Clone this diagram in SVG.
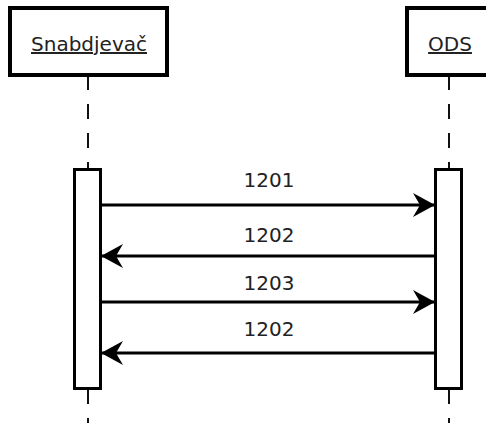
<svg xmlns="http://www.w3.org/2000/svg" width="486" height="427" viewBox="0 0 486 427">
<style>
.bg{fill:#fff}
.box{fill:#fff;stroke:#000;stroke-width:4}
.act{fill:#fff;stroke:#000;stroke-width:3}
.life{stroke:#111;stroke-width:2;stroke-dasharray:15 14;fill:none}
.lbl{font-family:"DejaVu Sans",Verdana,sans-serif;font-size:20px;fill:#222;text-anchor:middle}
.name{font-family:"DejaVu Sans",Verdana,sans-serif;font-size:20px;fill:#222;text-anchor:middle;text-decoration:underline}
.msg{stroke:#000;stroke-width:3;fill:none}
</style>
<defs>
<marker id="ah" viewBox="0 0 22 24" refX="21" refY="12" markerWidth="22" markerHeight="24" markerUnits="userSpaceOnUse" orient="auto">
<path d="M0,0 L22,12 L0,24 L7,12 Z" fill="#000"/>
</marker>
</defs>
<rect class="bg" x="0" y="0" width="486" height="427"/>
<g id="lifelines">
<line class="life" x1="88" y1="75" x2="88" y2="168"/>
<line class="life" x1="449" y1="75" x2="449" y2="168"/>
<line class="life" x1="88" y1="389" x2="88" y2="423"/>
<line class="life" x1="449" y1="389" x2="449" y2="423"/>
</g>
<g id="snabdjevac">
<rect class="box" x="10" y="8" width="157" height="67"/>
<text class="name" x="89" y="51">Snabdjevač</text>
</g>
<g id="ods">
<rect class="box" x="407" y="8" width="85" height="67"/>
<text class="name" x="450" y="51">ODS</text>
</g>
<g id="act-snabdjevac">
<rect class="act" x="74.5" y="169.5" width="26" height="219"/>
</g>
<g id="act-ods">
<rect class="act" x="435.5" y="169.5" width="26" height="219"/>
</g>
<g id="connectors">
<line class="msg" x1="101" y1="205" x2="434" y2="205" marker-end="url(#ah)"/>
<line class="msg" x1="435" y1="256" x2="102" y2="256" marker-end="url(#ah)"/>
<line class="msg" x1="101" y1="302" x2="434" y2="302" marker-end="url(#ah)"/>
<line class="msg" x1="435" y1="353" x2="102" y2="353" marker-end="url(#ah)"/>
<text class="lbl" x="269" y="187">1201</text>
<text class="lbl" x="269" y="242">1202</text>
<text class="lbl" x="269" y="290">1203</text>
<text class="lbl" x="269" y="336">1202</text>
</g>
</svg>
